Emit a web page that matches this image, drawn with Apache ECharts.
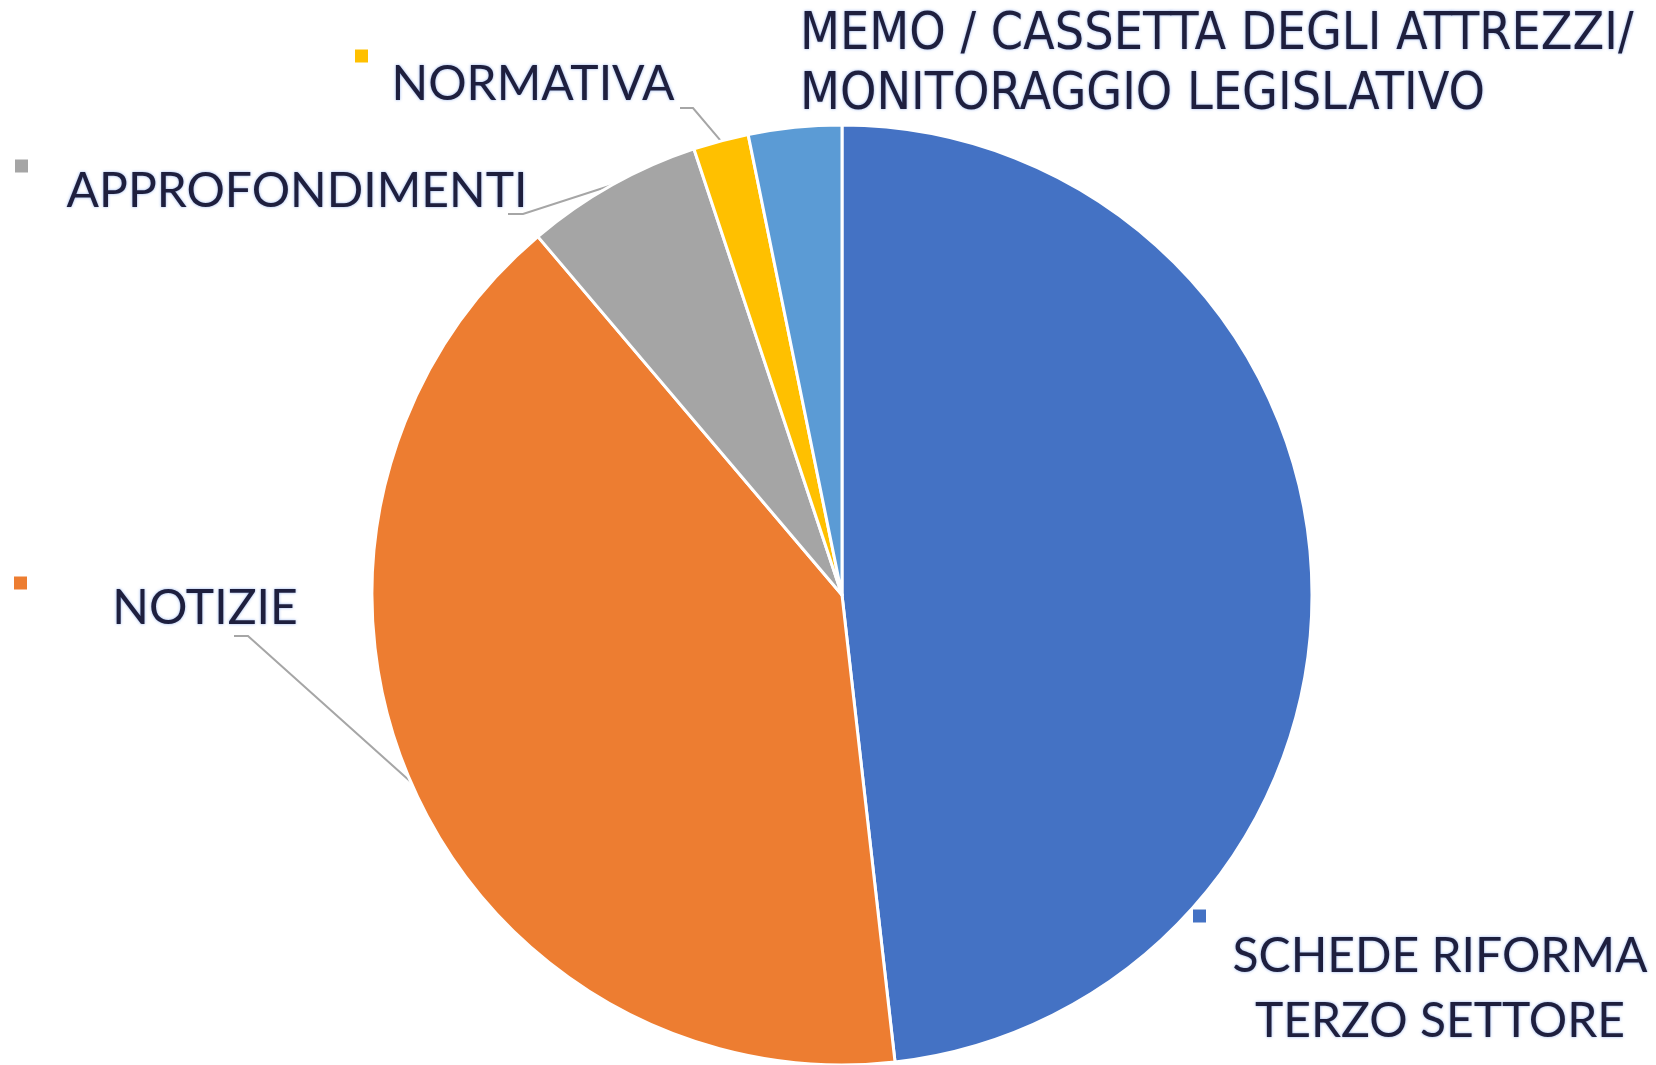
<!DOCTYPE html>
<html><head><meta charset="utf-8">
<script src="https://cdn.jsdelivr.net/npm/echarts@6/dist/echarts.min.js"></script>
<style>html,body{margin:0;padding:0;background:#fff}#c{width:1656px;height:1065px}</style>
</head><body><div id="c"></div><script>
// ---- data ----
const categories = ['SCHEDE RIFORMA TERZO SETTORE', 'NOTIZIE', 'APPROFONDIMENTI', 'NORMATIVA', 'MEMO / CASSETTA DEGLI ATTREZZI/ MONITORAGGIO LEGISLATIVO'];
const labelTexts = [['SCHEDE RIFORMA', 'TERZO SETTORE'], ['NOTIZIE'], ['APPROFONDIMENTI'], ['NORMATIVA'], ['MEMO / CASSETTA DEGLI ATTREZZI/', 'MONITORAGGIO LEGISLATIVO']];
const values = [48.2, 40.6, 6.1, 1.9, 3.2];
const colors = ['#4472C4', '#ED7D31', '#A5A5A5', '#FFC000', '#5B9BD5'];

// ---- label layout (positions of annotation boxes) ----
const layout = [
  {x: 1193, y: 908, w: 494, l1: 16, lh: 65, key: true, align: 'center', font: 'Lato', fs: 48, guide: null},
  {x: 14, y: 575, w: 382, l1: 16, lh: 36, key: true, align: 'center', font: 'Lato', fs: 48, guide: [[248, 636], [234, 636]]},
  {x: 15, y: 158, w: 564, l1: 16, lh: 36, key: true, align: 'center', font: 'Lato', fs: 48, guide: [[523, 214], [508, 214]]},
  {x: 355, y: 45, w: 356, l1: 22, lh: 36, key: true, align: 'center', font: 'Lato', fs: 48, guide: [[693, 108], [680, 108]]},
  {x: 800, y: 6, w: null, l1: 0, lh: 60, key: false, align: 'left', font: 'DejaVu Sans Condensed', fs: 51.5, guide: null}
];

const data = categories.map((name, i) => {
  const L = layout[i];
  const fmt = (L.key ? '{sq|}\n' : '') + labelTexts[i].map(t => '{t|' + t + '}').join('\n');
  const label = {
    show: true,
    formatter: fmt,
    rich: {
      sq: {width: 13, height: 13, lineHeight: L.l1, backgroundColor: colors[i], align: 'left'},
      t: {
        fontFamily: L.font, fontSize: L.fs, lineHeight: L.lh, color: '#1E1F3E', align: L.align,
        textShadowColor: 'rgba(110,150,230,0.75)', textShadowBlur: 3
      }
    }
  };
  if (L.w) label.width = L.w;
  return {
    name: name,
    value: values[i],
    itemStyle: {color: colors[i]},
    label: label,
    labelLine: {show: !!L.guide}
  };
});

const chart = echarts.init(document.getElementById('c'), null, {renderer: 'canvas'});
chart.setOption({
  animation: false,
  backgroundColor: '#ffffff',
  series: [{
    type: 'pie',
    center: [842, 595],
    radius: 470,
    startAngle: 90,
    clockwise: true,
    avoidLabelOverlap: false,
    itemStyle: {borderColor: '#ffffff', borderWidth: 3},
    label: {position: 'outside'},
    labelLine: {lineStyle: {color: '#A6A6A6', width: 2}, smooth: false},
    emphasis: {disabled: true},
    data: data,
    labelLayout: function (p) {
      const L = layout[p.dataIndex];
      const r = {x: L.x, y: L.y, align: 'left', verticalAlign: 'top'};
      if (L.guide && p.labelLinePoints) {
        r.labelLinePoints = [p.labelLinePoints[0]].concat(L.guide);
      }
      return r;
    }
  }]
});
</script></body></html>
